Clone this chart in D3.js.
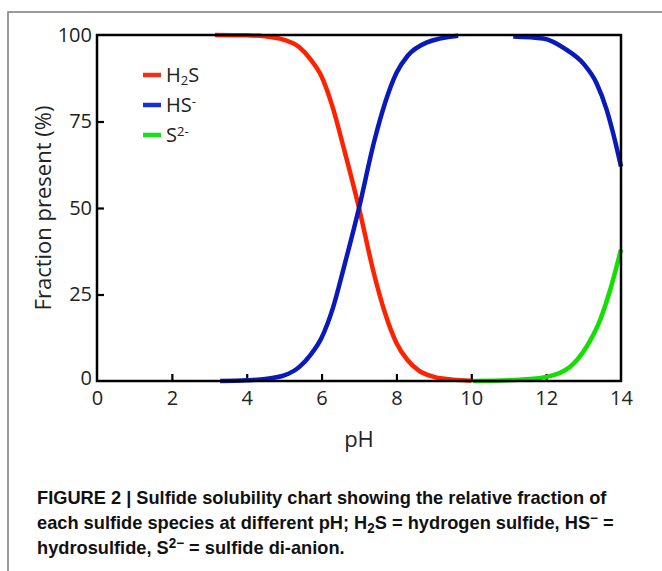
<!DOCTYPE html>
<html><head><meta charset="utf-8">
<script src="https://cdn.jsdelivr.net/npm/d3@7"></script>
<style>html,body{margin:0;padding:0;background:#fff;}svg{display:block;}</style>
</head><body>
<svg id="c" width="662" height="571"></svg>
<script>
// ---- data ----
const xTicks = [0, 2, 4, 6, 8, 10, 12, 14];
const yTicks = [0, 25, 50, 75, 100];
const h2sPH  = [3.15, 4.0, 4.5, 5.0, 5.4, 5.7, 6.0, 6.3, 6.6, 7.0, 7.4, 7.7, 8.0, 8.3, 8.6, 9.0, 9.5, 10.0];
const h2sVal = [100, 99.9, 99.6, 98.6, 96.5, 93, 88, 79, 67, 50, 31, 19.5, 11, 6, 3, 1.2, 0.4, 0.1];
const hsPH1  = [3.29, 4.0, 4.5, 5.0, 5.4, 5.7, 6.0, 6.3, 6.6, 7.0, 7.4, 7.7, 8.0, 8.3, 8.8, 9.65];
const hsVal1 = [0, 0.2, 0.6, 1.6, 4.0, 7.5, 12.5, 21, 33, 50, 69, 80.5, 89, 94, 97.8, 99.8];
const hsPH2  = [11.12, 11.92, 12.55, 12.99, 13.35, 13.62, 13.79, 14.0];
const hsVal2 = [99.6, 99, 95.7, 91.8, 86, 78.3, 71.6, 62];
const s2PH   = [10.05, 11.0, 12.01, 12.64, 13.08, 13.44, 13.71, 14.0];
const s2Val  = [0, 0.2, 1.2, 4.1, 9.9, 17.6, 26.3, 38];
const colors = {h2s: "#ff2200", hs: "#0a1ab8", s2: "#11e000"};

const svg = d3.select("#c");
const FONT = "'Open Sans', 'DejaVu Sans', sans-serif";
const L = 97, R = 621, T = 35, B = 381;
const x = d3.scaleLinear().domain([0, 14]).range([L, R]);
const y = d3.scaleLinear().domain([0, 100]).range([B, T]);

// outer border
svg.append("rect").attr("x", 8).attr("y", 12).attr("width", 700).attr("height", 600)
  .attr("fill", "none").attr("stroke", "#7a7a7a").attr("stroke-width", 1.5);

// axes
const xAxis = svg.append("g").attr("transform", `translate(0,${B})`)
  .call(d3.axisBottom(x).tickValues(xTicks).tickSize(-7).tickPadding(10).tickFormat(d3.format("d")));
const yAxis = svg.append("g").attr("transform", `translate(${L},0)`)
  .call(d3.axisLeft(y).tickValues(yTicks).tickSize(-7).tickPadding(5).tickFormat(d3.format("d")));
[xAxis, yAxis].forEach(a => {
  a.select(".domain").remove();
  a.selectAll("line").attr("stroke", "#000").attr("stroke-width", 2.2);
  a.selectAll("text").attr("font-family", FONT).attr("font-size", 20).attr("fill", "#222");
});
xAxis.selectAll(".tick").filter(d => d === 0 || d === 14).select("line").remove();
yAxis.selectAll(".tick").filter(d => d === 0 || d === 100).select("line").remove();
yAxis.selectAll(".tick").filter(d => d === 0).select("text").attr("dy", "0.15em");

// series
const line = d3.line().x(d => x(d[0])).y(d => y(d[1])).curve(d3.curveMonotoneX);
const series = [
  {px: h2sPH, v: h2sVal, c: colors.h2s},
  {px: hsPH1, v: hsVal1, c: colors.hs},
  {px: hsPH2, v: hsVal2, c: colors.hs},
  {px: s2PH, v: s2Val, c: colors.s2}
];
series.forEach(s => {
  svg.append("path").datum(d3.zip(s.px, s.v)).attr("d", line)
    .attr("fill", "none").attr("stroke", s.c).attr("stroke-width", 4.5);
});

// frame
svg.append("rect").attr("x", L).attr("y", T).attr("width", R - L).attr("height", B - T)
  .attr("fill", "none").attr("stroke", "#000").attr("stroke-width", 2.5);

// axis titles
svg.append("text").attr("x", x(7)).attr("y", 447).attr("text-anchor", "middle")
  .attr("font-family", FONT).attr("font-size", 22).attr("fill", "#222").text("pH");
svg.append("text").attr("transform", `translate(51,${(T + B) / 2}) rotate(-90)`).attr("text-anchor", "middle")
  .attr("font-family", FONT).attr("font-size", 22).attr("fill", "#222").text("Fraction present (%)");

// legend
const legend = [
  {c: "#f03018", parts: [["H", ""], ["2", "sub"], ["S", ""]]},
  {c: "#1a30d0", parts: [["HS", ""], ["-", "sup"]]},
  {c: "#18e018", parts: [["S", ""], ["2-", "sup"]]}
];
legend.forEach((g, i) => {
  const yy = 75 + i * 30;
  svg.append("line").attr("x1", 143).attr("x2", 161).attr("y1", yy).attr("y2", yy)
    .attr("stroke", g.c).attr("stroke-width", 4.5);
  const t = svg.append("text").attr("x", 166).attr("y", yy + 7)
    .attr("font-family", FONT).attr("font-size", 20).attr("fill", "#222");
  g.parts.forEach(p => {
    const ts = t.append("tspan").text(p[0]);
    if (p[1] === "sub") ts.attr("font-size", 13).attr("baseline-shift", "-25%");
    if (p[1] === "sup") ts.attr("font-size", 13).attr("baseline-shift", "45%");
  });
});

// caption (condensed look via one common horizontal scale)
const CF = "'Liberation Sans', Arial, sans-serif";
const cap = [
  [["FIGURE 2 | Sulfide solubility chart showing the relative fraction of", ""]],
  [["each sulfide species at different pH; H", ""], ["2", "sub"], ["S = hydrogen sulfide, HS", ""], ["\u2212", "sup"], [" =", ""]],
  [["hydrosulfide, S", ""], ["2\u2212", "sup"], [" = sulfide di-anion.", ""]]
];
let k = 1;
cap.forEach((parts, i) => {
  const g = svg.append("g");
  const t = g.append("text").attr("x", 0).attr("y", 0)
    .attr("font-family", CF).attr("font-size", 19).attr("font-weight", "bold").attr("fill", "#111");
  parts.forEach(p => {
    const ts = t.append("tspan").text(p[0]);
    if (p[1] === "sub") ts.attr("font-size", 14).attr("baseline-shift", "-25%");
    if (p[1] === "sup") ts.attr("font-size", 14).attr("baseline-shift", "45%");
  });
  if (i === 0) { const nat = t.node().getComputedTextLength(); if (nat) k = 570 / nat; }
  g.attr("transform", `translate(37,${504 + i * 25}) scale(${k},1)`);
});
</script>
</body></html>
